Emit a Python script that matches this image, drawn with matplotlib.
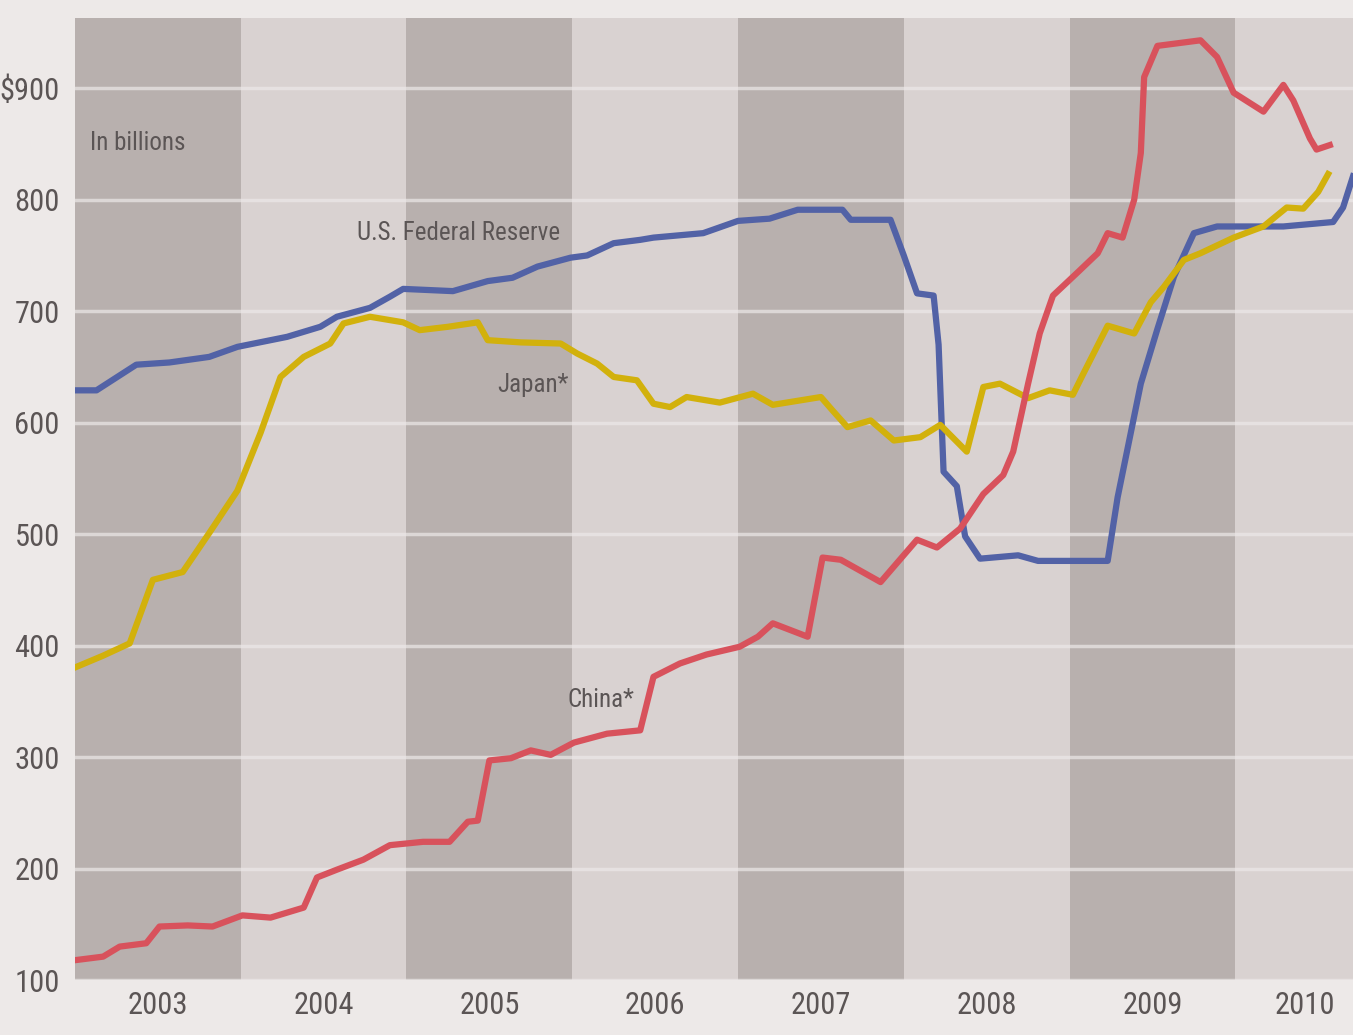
import matplotlib
matplotlib.use("Agg")
import matplotlib.pyplot as plt
from matplotlib.ticker import FixedLocator, FixedFormatter

# ---------------- data ----------------
years = [2003, 2004, 2005, 2006, 2007, 2008, 2009, 2010]
year_labels = ["2003", "2004", "2005", "2006", "2007", "2008", "2009", "2010"]
y_ticks = [100, 200, 300, 400, 500, 600, 700, 800, 900]
y_tick_labels = ["100", "200", "300", "400", "500", "600", "700", "800", "$900"]

fed_t = [2003.01, 2003.13, 2003.37, 2003.57, 2003.81, 2003.98, 2004.28, 2004.48, 2004.58,
         2004.78, 2004.90, 2004.98, 2005.28, 2005.49, 2005.64, 2005.79, 2005.99, 2006.09,
         2006.25, 2006.41, 2006.49, 2006.79, 2007.00, 2007.19, 2007.36, 2007.63, 2007.68,
         2007.92, 2008.00, 2008.08, 2008.18, 2008.21, 2008.24, 2008.32, 2008.37, 2008.46,
         2008.69, 2008.81, 2009.23, 2009.29, 2009.43, 2009.53, 2009.63, 2009.75, 2009.89,
         2010.29, 2010.59, 2010.65, 2010.71]
fed_v = [629, 629, 652, 654, 659, 668, 677, 686, 695,
         703, 713, 720, 718, 727, 730, 740, 748, 750,
         761, 764, 766, 770, 781, 783, 791, 791, 782,
         782, 750, 716, 714, 670, 556, 543, 498, 478,
         481, 476, 476, 533, 635, 684, 731, 770, 776,
         776, 780, 793, 821]

japan_t = [2003.01, 2003.17, 2003.33, 2003.47, 2003.65, 2003.81, 2003.98, 2004.12, 2004.24,
           2004.38, 2004.54, 2004.62, 2004.78, 2004.98, 2005.08, 2005.25, 2005.43, 2005.49,
           2005.69, 2005.93, 2006.03, 2006.15, 2006.25, 2006.39, 2006.49, 2006.59, 2006.69,
           2006.89, 2007.09, 2007.21, 2007.50, 2007.57, 2007.66, 2007.80, 2007.94, 2008.10,
           2008.22, 2008.38, 2008.48, 2008.58, 2008.75, 2008.88, 2009.02, 2009.08, 2009.23,
           2009.39, 2009.49, 2009.57, 2009.69, 2009.79, 2009.99, 2010.17, 2010.31, 2010.41,
           2010.50, 2010.56]
japan_v = [381, 391, 402, 459, 466, 501, 539, 591, 641,
           659, 671, 689, 695, 690, 683, 686, 690, 674,
           672, 671, 662, 653, 641, 638, 617, 614, 623,
           618, 626, 616, 623, 611, 596, 602, 584, 587,
           598, 574, 632, 635, 622, 629, 625, 643, 687,
           680, 708, 722, 746, 752, 766, 776, 793, 792,
           807, 823]

china_t = [2003.01, 2003.17, 2003.27, 2003.43, 2003.51, 2003.68, 2003.83, 2004.01, 2004.18,
           2004.38, 2004.46, 2004.58, 2004.74, 2004.90, 2005.10, 2005.26, 2005.37, 2005.43,
           2005.50, 2005.63, 2005.75, 2005.87, 2006.01, 2006.21, 2006.41, 2006.49, 2006.65,
           2006.81, 2007.01, 2007.12, 2007.21, 2007.42, 2007.51, 2007.62, 2007.86, 2008.08,
           2008.20, 2008.34, 2008.48, 2008.60, 2008.66, 2008.75, 2008.82, 2008.90, 2009.05,
           2009.17, 2009.23, 2009.32, 2009.39, 2009.43, 2009.45, 2009.53, 2009.79, 2009.89,
           2009.99, 2010.17, 2010.29, 2010.35, 2010.45, 2010.49, 2010.57]
china_v = [118, 121, 130, 133, 148, 149, 148, 158, 156,
           165, 192, 199, 208, 221, 224, 224, 242, 243,
           297, 299, 306, 302, 313, 321, 324, 372, 384,
           392, 399, 408, 420, 408, 479, 477, 457, 495,
           488, 505, 536, 553, 574, 635, 680, 714, 735,
           752, 770, 766, 800, 842, 910, 938, 943, 928,
           896, 879, 903, 889, 855, 845, 849]

# ---------------- style ----------------
BG = "#ede9e8"
DARK = "#b8b0ae"
LIGHT = "#d9d2d1"
GRID = "#ece8e8"
TXT = "#5b5555"
BLUE = "#5262a6"
YELLOW = "#d2b10c"
RED = "#d8525c"

FONT = ["Liberation Sans Narrow", "Noto Sans ExtraCondensed", "Noto Sans Condensed",
        "Roboto Condensed", "Noto Sans", "DejaVu Sans"]
plt.rcParams["font.family"] = FONT
plt.rcParams["font.stretch"] = "extra-condensed"

fig = plt.figure(figsize=(13.53, 10.35), dpi=100, facecolor=BG)
ax = fig.add_axes([0.0554, 0.0531, 0.9446, 0.9295])
ax.set_facecolor(BG)

xmin, xmax = 2003.0, 2010.71
ymin, ymax = 100, 963
ax.set_xlim(xmin, xmax)
ax.set_ylim(ymin, ymax)

for i, yr in enumerate(years):
    ax.axvspan(yr, yr + 1, color=DARK if i % 2 == 0 else LIGHT, lw=0, zorder=0)

for v in y_ticks:
    ax.axhline(v, color=GRID, lw=2.5, alpha=0.7, zorder=1)

ax.plot(fed_t, fed_v, color=BLUE, lw=4.5, solid_joinstyle="round", zorder=3)
ax.plot(japan_t, japan_v, color=YELLOW, lw=4.5, solid_joinstyle="round", zorder=3)
ax.plot(china_t, china_v, color=RED, lw=4.5, solid_joinstyle="round", zorder=4)

label_x = [yr + 0.5 for yr in years[:-1]] + [2010.42]
ax.xaxis.set_major_locator(FixedLocator(label_x))
ax.xaxis.set_major_formatter(FixedFormatter(year_labels))
ax.yaxis.set_major_locator(FixedLocator(y_ticks))
ax.yaxis.set_major_formatter(FixedFormatter(y_tick_labels))
ax.tick_params(axis="both", length=0, labelsize=22, labelcolor=TXT)
ax.tick_params(axis="x", pad=8)
ax.tick_params(axis="y", pad=11)
for s in ax.spines.values():
    s.set_visible(False)

tkw = dict(color=TXT, fontsize=18, zorder=5)
ax.text(2003.09, 851, "In billions", va="center", ha="left", **tkw)
ax.text(2004.70, 770, "U.S. Federal Reserve", va="center", ha="left", **tkw)
ax.text(2005.55, 634, "Japan*", va="center", ha="left", **tkw)
ax.text(2005.97, 351, "China*", va="center", ha="left", **tkw)

fig.savefig("out.png", dpi=100, facecolor=BG)
